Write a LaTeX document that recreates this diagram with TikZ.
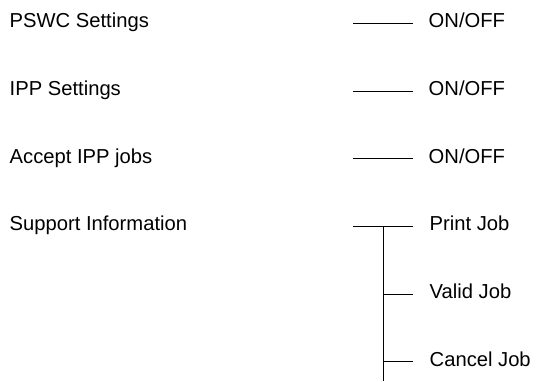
\documentclass[tikz,border=0pt]{standalone}
\usepackage{fontspec}
\setmainfont{Liberation Sans}
\begin{document}
\begin{tikzpicture}[x=1pt,y=1pt,
  lbl/.style={font=\fontsize{20.2}{24}\selectfont, inner sep=0pt, anchor=base west},
  conn/.style={line width=0.9pt}]
\useasboundingbox (0,0) rectangle (537,381);
% left labels
\node[lbl] (pswc) at (9.5,353.3) {PSWC Settings};
\node[lbl] (ipp) at (9.5,285.6) {IPP Settings};
\node[lbl] (acc) at (9.5,217.9) {Accept IPP jobs};
\node[lbl] (sup) at (9.5,150.2) {Support Information};
% right labels
\node[lbl] (o1) at (428.5,353.3) {ON/OFF};
\node[lbl] (o2) at (428.5,285.6) {ON/OFF};
\node[lbl] (o3) at (428.5,217.9) {ON/OFF};
\node[lbl] (pj) at (429.5,150.2) {Print Job};
\node[lbl] (vj) at (429.5,82.6) {Valid Job};
\node[lbl] (cj) at (429.5,14.8) {Cancel Job};
% connector coordinates
\coordinate (a1) at (353,357.7); \coordinate (b1) at (413,357.7);
\coordinate (a2) at (353,290); \coordinate (b2) at (413,290);
\coordinate (a3) at (353,222.3); \coordinate (b3) at (413,222.3);
\coordinate (a4) at (353,154.6); \coordinate (b4) at (413,154.6);
\coordinate (vt) at (383,154.6); \coordinate (vb) at (383,0);
\coordinate (v5) at (383,87); \coordinate (b5) at (413,87);
\coordinate (v6) at (383,19.2); \coordinate (b6) at (413,19.2);
\draw[conn] (a1) -- (b1);
\draw[conn] (a2) -- (b2);
\draw[conn] (a3) -- (b3);
\draw[conn] (a4) -- (b4);
\draw[conn] (vt) -- (vb);
\draw[conn] (v5) -- (b5);
\draw[conn] (v6) -- (b6);
\end{tikzpicture}
\end{document}
